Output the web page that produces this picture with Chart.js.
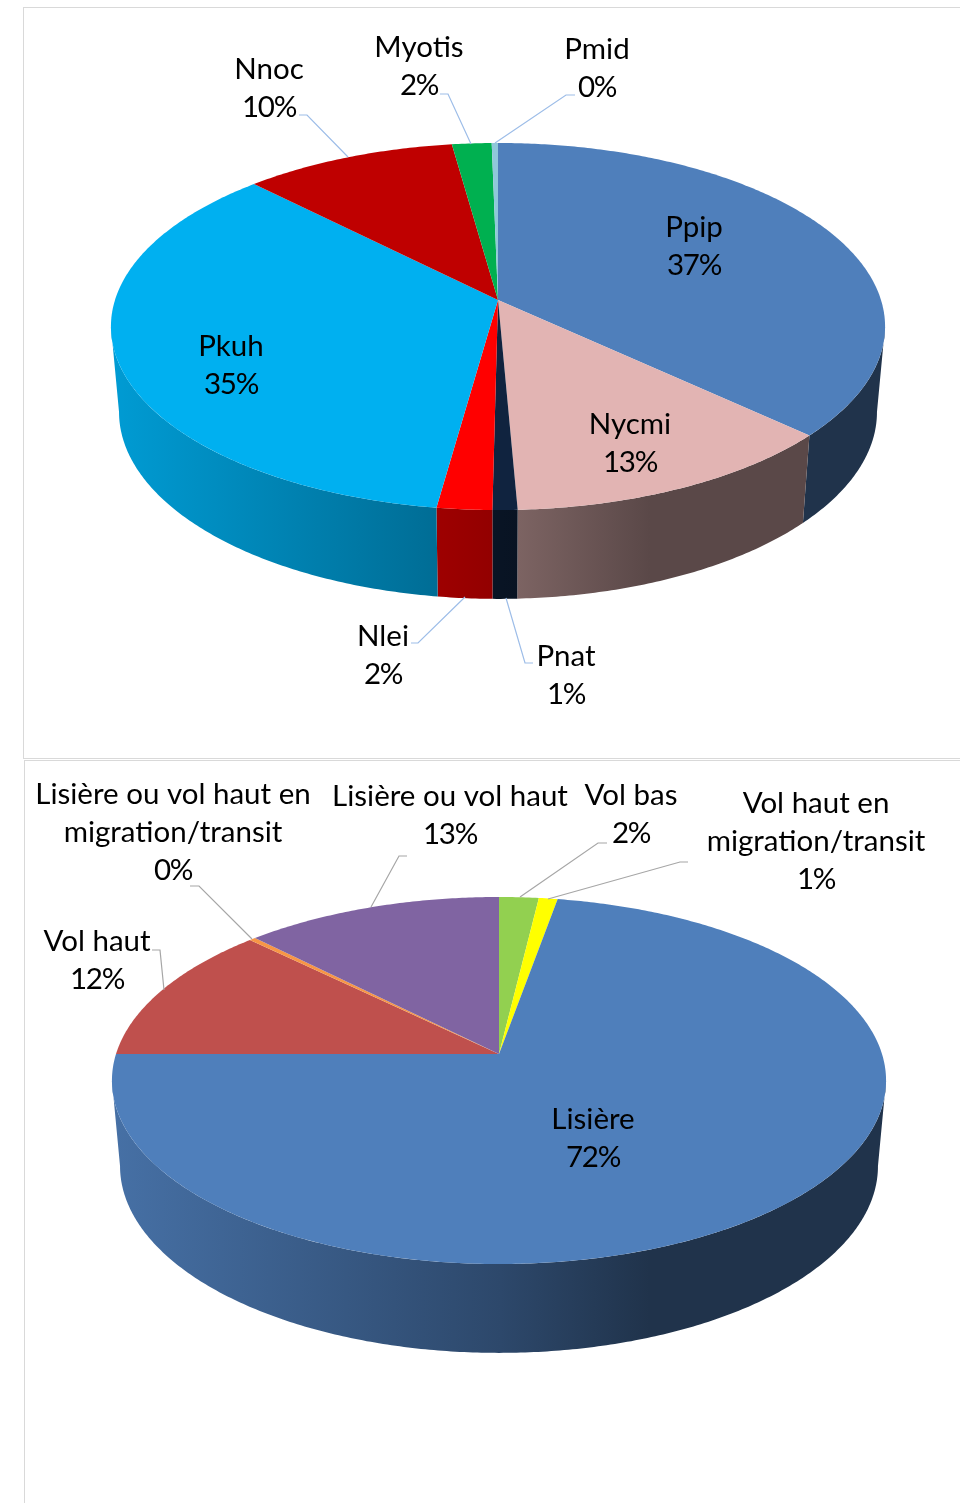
<!DOCTYPE html>
<html>
<head>
<meta charset="utf-8">
<script src="https://cdn.jsdelivr.net/npm/chart.js@4"></script>
<style>
    html, body { margin: 0; padding: 0; background: #fff; }
    body { position: relative; width: 960px; height: 1503px; overflow: hidden; }
    canvas { position: absolute; left: 0; }
    #chart1 { top: 0; }
    #chart2 { top: 760px; }
    .frame { position: absolute; box-sizing: border-box; border: 1px solid #d9d9d9; border-right: 0; width: 940px; }
    #frame1 { left: 23px; top: 7px; height: 752px; }
    #frame2 { left: 24px; top: 760px; height: 760px; }
</style>
</head>
<body>
<div class="frame" id="frame1"></div>
<div class="frame" id="frame2"></div>
<canvas id="chart1" width="960" height="759"></canvas>
<canvas id="chart2" width="960" height="743"></canvas>

<script>
const batCategories = ["Ppip", "Nycmi", "Pnat", "Nlei", "Pkuh", "Nnoc", "Myotis", "Pmid"];
const batValues = [36.9, 12.4, 0.9, 2.0, 35.4, 10.2, 1.9, 0.3];
const batPercents = ["37%", "13%", "1%", "2%", "35%", "10%", "2%", "0%"];
const batColors = ["#4f7fbb", "#e2b4b3", "#10233f", "#ff0000", "#00b0f0", "#bf0000", "#00b050", "#8fc8da"];

const flightCategories = [
    "Vol bas",
    ["Vol haut en", "migration/transit"],
    "Lisière",
    "Vol haut",
    ["Lisière ou vol haut en", "migration/transit"],
    "Lisière ou vol haut"
];
const flightValues = [1.9, 0.9, 72.2, 12.3, 0.3, 12.4];
const flightPercents = ["2%", "1%", "72%", "12%", "0%", "13%"];
const flightColors = ["#92d050", "#ffff00", "#4f7fbb", "#bf504d", "#f79646", "#8064a2"];

// where the text sits, page pixels: centre x and first baseline
const batLabelSpots = [
    [694, 237], [630, 434], [566, 666], [383, 646], [231, 356], [269, 79], [419, 57], [597, 59]
];
const flightLabelSpots = [
    [631, 805], [816, 813], [593, 1129], [97, 951], [173, 804], [450, 806]
];

// callout lines, page pixels: text end, elbow, rim
const batLeaders = [
    null, null,
    [[533, 663], [525, 663], [506, 598]],
    [[411, 643], [418, 643], [465, 597]],
    null,
    [[299, 115], [307, 115], [348, 157]],
    [[440, 94], [448, 94], [471, 144]],
    [[575, 95], [566, 95], [495, 143]]
];
const flightLeaders = [
    [[607, 843], [598, 843], [520, 897]],
    [[688, 862], [680, 862], [548, 899]],
    null,
    [[152, 950], [160, 950], [164, 990]],
    [[190, 886], [199, 886], [252, 939]],
    [[407, 856], [399, 856], [371, 907]]
];

const PERSPECTIVE = 0.1444;
const TOP_FACE = { a: 383, b: 179.7, cy: 300 };
const BASE_FACE = { a: 375, b: 183, cy: 385 };
const SHADE_FROM = 115;
const SHADE_TO = 886;
const SHADE_STOPS = [[0, 0.88], [0.5, 0.57], [0.694, 0.4], [1, 0.4]];
const LABEL_FONT = "29.5px Lato";
const LINE_HEIGHT = 38;

function rimPoint(angle, face, centerX, shiftY) {
    // chart.js angles start at -PI/2, so theta 0 is the back of the disc
    const theta = angle + Math.PI / 2;
    const x = Math.sin(theta);
    const y = Math.cos(theta);
    const depth = 1 + PERSPECTIVE * y;
    return {
        x: centerX + face.a * x / depth,
        y: face.cy + shiftY - face.b * y / depth
    };
}

function rimPoints(startAngle, endAngle, face, centerX, shiftY) {
    const steps = Math.max(2, Math.ceil((endAngle - startAngle) / 0.01));
    const points = [];
    for (let i = 0; i <= steps; i++) {
        const angle = startAngle + (endAngle - startAngle) * i / steps;
        points.push(rimPoint(angle, face, centerX, shiftY));
    }
    return points;
}

function shadeColor(hex, factor) {
    const n = parseInt(hex.slice(1), 16);
    const r = Math.round((n >> 16 & 255) * factor);
    const g = Math.round((n >> 8 & 255) * factor);
    const b = Math.round((n & 255) * factor);
    return "rgb(" + r + "," + g + "," + b + ")";
}

function drawWall(ctx, arc, color, opts) {
    // the wall is only seen between the two widest points of the disc
    const fold = Math.asin(PERSPECTIVE);
    const from = Math.max(arc.startAngle, fold);
    const to = Math.min(arc.endAngle, Math.PI - fold);
    if (to <= from) return;

    const upper = rimPoints(from, to, TOP_FACE, opts.centerX, opts.shiftY);
    const lower = rimPoints(from, to, BASE_FACE, opts.centerX, opts.shiftY).reverse();
    const wall = ctx.createLinearGradient(SHADE_FROM, 0, SHADE_TO, 0);
    SHADE_STOPS.forEach(s => wall.addColorStop(s[0], shadeColor(color, s[1])));

    ctx.beginPath();
    upper.concat(lower).forEach((p, n) => n ? ctx.lineTo(p.x, p.y) : ctx.moveTo(p.x, p.y));
    ctx.closePath();
    ctx.fillStyle = wall;
    ctx.fill();
}

const pie3dPlugin = {
    id: "pie3d",
    beforeDatasetsDraw(chart, args, opts) {
        const ctx = chart.ctx;
        const arcs = chart.getDatasetMeta(0).data;
        const colors = chart.data.datasets[0].backgroundColor;

        arcs.forEach((arc, i) => drawWall(ctx, arc, colors[i], opts));

        arcs.forEach((arc, i) => {
            ctx.beginPath();
            ctx.moveTo(opts.centerX, TOP_FACE.cy + opts.shiftY);
            rimPoints(arc.startAngle, arc.endAngle, TOP_FACE, opts.centerX, opts.shiftY)
                .forEach(p => ctx.lineTo(p.x, p.y));
            ctx.closePath();
            ctx.fillStyle = colors[i];
            ctx.fill();
        });
        return false;
    },
    afterDraw(chart, args, opts) {
        const ctx = chart.ctx;
        ctx.save();
        ctx.translate(0, -opts.pageTop);

        ctx.strokeStyle = opts.leaderColor;
        ctx.lineWidth = 1.2;
        opts.leaders.forEach(line => {
            if (!line) return;
            ctx.beginPath();
            line.forEach((p, n) => n ? ctx.lineTo(p[0], p[1]) : ctx.moveTo(p[0], p[1]));
            ctx.stroke();
        });

        ctx.fillStyle = "#000";
        ctx.font = LABEL_FONT;
        ctx.textAlign = "center";
        ctx.textBaseline = "alphabetic";
        chart.data.labels.forEach((label, i) => {
            const lines = [].concat(label);
            const spot = opts.spots[i];
            ctx.letterSpacing = "0px";
            lines.forEach((text, n) => ctx.fillText(text, spot[0], spot[1] + n * LINE_HEIGHT));
            // Lato digits run wider than the original font
            ctx.letterSpacing = "-1.3px";
            ctx.fillText(opts.percents[i], spot[0], spot[1] + lines.length * LINE_HEIGHT);
        });
        ctx.restore();
    }
};

function createPie(chartId, labels, values, colors, pie3dOptions) {
    const canvas = document.getElementById(chartId);
    if (!canvas) return;

    new Chart(canvas, {
        type: "pie",
        data: {
            labels: labels,
            datasets: [{
                data: values,
                backgroundColor: colors,
                borderWidth: 0
            }]
        },
        options: {
            responsive: false,
            animation: false,
            plugins: {
                legend: { display: false },
                tooltip: { enabled: false },
                pie3d: pie3dOptions
            }
        },
        plugins: [pie3dPlugin]
    });
}

document.fonts.load(LABEL_FONT).finally(function () {
    createPie("chart1", batCategories, batValues, batColors, {
        centerX: 498,
        shiftY: 0,
        pageTop: 0,
        spots: batLabelSpots,
        percents: batPercents,
        leaders: batLeaders,
        leaderColor: "#9dbde8"
    });
    createPie("chart2", flightCategories, flightValues, flightColors, {
        centerX: 499,
        shiftY: -6,
        pageTop: 760,
        spots: flightLabelSpots,
        percents: flightPercents,
        leaders: flightLeaders,
        leaderColor: "#a6a6a6"
    });
});
</script>
</body>
</html>
